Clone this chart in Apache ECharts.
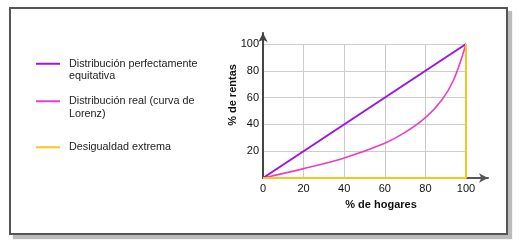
<!DOCTYPE html>
<html>
<head>
<meta charset="utf-8">
<script src="https://cdn.jsdelivr.net/npm/echarts@6/dist/echarts.min.js"></script>
<style>
  html, body { margin:0; padding:0; background:#fff; }
  #frame { position:absolute; left:9px; top:7px; width:495px; height:224px; border:2px solid #555; box-shadow:4px 4px 1px #bbb; background:#fff; }
  #chart { position:absolute; left:0; top:0; width:519px; height:246px; }
</style>
</head>
<body>
<div id="frame"></div>
<div id="chart"></div>
<script>
// Data
const seriesNames = ['Distribución perfectamente equitativa', 'Distribución real (curva de Lorenz)', 'Desigualdad extrema'];
const legendLabels = ['\u00a0\nDistribución perfectamente\nequitativa', '\u00a0\nDistribución real (curva de\nLorenz)', 'Desigualdad extrema'];
const equalX = [0, 100];
const equalY = [0, 100];
const lorenzX = [0, 20, 40, 60, 70, 80, 88, 94, 100];
const lorenzY = [0, 7, 15, 26, 34, 45, 58, 73.5, 100];
const extremeX = [0, 100, 100];
const extremeY = [0, 0, 100];
const xTicks = [0, 20, 40, 60, 80, 100];
const yTicks = [20, 40, 60, 80, 100];
const xTitle = '% de hogares';
const yTitle = '% de rentas';
const colors = ['#9a14e6', '#ee3cc6', '#f7c81a'];

const pairs = (xs, ys) => xs.map((x, i) => [x, ys[i]]);
const labelMap = {};
seriesNames.forEach((n, i) => labelMap[n] = legendLabels[i]);

const chart = echarts.init(document.getElementById('chart'), null, { renderer: 'canvas' });
const font = 'Liberation Sans, Arial, sans-serif';
const legendCommon = {
  orient: 'vertical', left: 36, itemWidth: 24, itemHeight: 2, icon: 'rect', padding: 0,
  formatter: n => labelMap[n],
  textStyle: { fontFamily: font, fontSize: 10.8, color: '#222', lineHeight: 12.5, padding: [0, 0, 0, 4] }
};
chart.setOption({
  animation: false,
  backgroundColor: 'transparent',
  color: colors,
  legend: [
    Object.assign({}, legendCommon, { data: [seriesNames[0], seriesNames[1]], top: 45, itemGap: 0 }),
    Object.assign({}, legendCommon, { data: [seriesNames[2]], top: 141 })
  ],
  grid: [
    { left: 263, top: 44, width: 203, height: 134 },
    { left: 263, top: 33, width: 225, height: 145 }
  ],
  xAxis: [
    { type: 'value', gridIndex: 0, min: 0, max: 100, interval: 20,
      axisLine: { show: false }, axisTick: { show: false },
      splitLine: { show: true, lineStyle: { color: '#cccccc', width: 1 } },
      axisLabel: { margin: 5, fontFamily: font, fontSize: 11, color: '#111',
        customValues: xTicks, formatter: v => String(v) } },
    { type: 'value', gridIndex: 1, min: 0, max: 1,
      axisLine: { show: true, lineStyle: { color: '#555', width: 2 }, symbol: ['none', 'arrow'], symbolSize: [7, 9] },
      axisTick: { show: false }, axisLabel: { show: false }, splitLine: { show: false },
      name: xTitle, nameLocation: 'middle', nameGap: 21,
      nameTextStyle: { fontFamily: font, fontSize: 11, fontWeight: 'bold', color: '#111', padding: [0, 0, 0, 11] } }
  ],
  yAxis: [
    { type: 'value', gridIndex: 0, min: 0, max: 100, interval: 20,
      axisLine: { show: false }, axisTick: { show: false },
      splitLine: { show: true, lineStyle: { color: '#cccccc', width: 1 } },
      axisLabel: { margin: 4, fontFamily: font, fontSize: 11, color: '#111',
        customValues: yTicks, formatter: v => String(v) } },
    { type: 'value', gridIndex: 1, min: 0, max: 1,
      axisLine: { show: true, lineStyle: { color: '#444', width: 2 }, symbol: ['none', 'arrow'], symbolSize: [7, 9] },
      axisTick: { show: false }, axisLabel: { show: false }, splitLine: { show: false },
      name: yTitle, nameLocation: 'middle', nameGap: 25,
      nameTextStyle: { fontFamily: font, fontSize: 11, fontWeight: 'bold', color: '#111', padding: [0, 0, 0, 21] } }
  ],
  series: [
    { name: seriesNames[0], type: 'line', xAxisIndex: 0, yAxisIndex: 0, data: pairs(equalX, equalY),
      showSymbol: false, lineStyle: { width: 2, color: colors[0] }, z: 4 },
    { name: seriesNames[1], type: 'line', xAxisIndex: 0, yAxisIndex: 0, data: pairs(lorenzX, lorenzY),
      showSymbol: false, smooth: 0.35, lineStyle: { width: 1.6, color: colors[1] }, z: 3 },
    { name: seriesNames[2], type: 'line', xAxisIndex: 0, yAxisIndex: 0, data: pairs(extremeX, extremeY),
      showSymbol: false, lineStyle: { width: 2, color: colors[2] }, z: 5 }
  ]
});
</script>
</body>
</html>
